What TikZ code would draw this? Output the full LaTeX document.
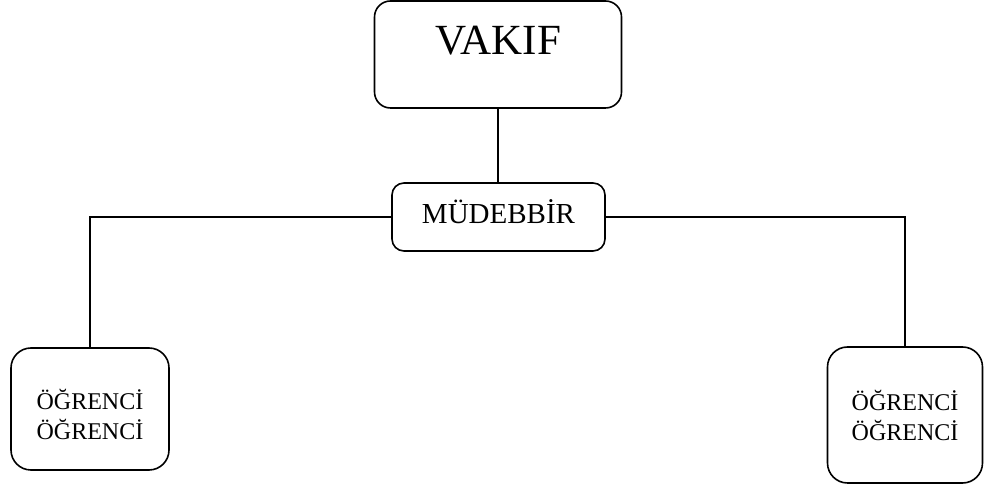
\documentclass[tikz,border=0pt]{standalone}
\usepackage{fontspec}
\setmainfont{Liberation Serif}
\tikzset{
  kutu/.style={draw, line width=1.6pt, rounded corners=16pt, inner sep=0pt},
  yazi/.style={align=center, font=\fontsize{24}{30}\selectfont},
  bag/.style={line width=1.6pt}
}
\begin{document}
\begin{tikzpicture}[x=1pt,y=1pt]
   \path[use as bounding box] (0,0) rectangle (984,486);
   \node[kutu, minimum width=247pt, minimum height=107pt, font=\fontsize{43}{43}\selectfont,
         text height=28pt, text depth=28pt] (vakif) at (498,431.5) {VAKIF};
   \node[kutu, rounded corners=12pt, minimum width=213pt, minimum height=68pt,
         font=\fontsize{29}{29}\selectfont, text height=20pt, text depth=6pt] (mudebbir) at (498.5,269) {MÜDEBBİR};
   \node[kutu, rounded corners=20pt, minimum width=158pt, minimum height=122pt] (ogrenciL) at (90,77) {};
   \node[yazi] (ogrenciLyazi) at ([yshift=-5pt]ogrenciL.center) {ÖĞRENCİ\\ÖĞRENCİ};
   \node[kutu, rounded corners=20pt, minimum width=155pt, minimum height=136pt, yazi] (ogrenciR) at (905,71) {ÖĞRENCİ\\ÖĞRENCİ};
   \draw[bag] (vakif.south) -- (vakif.south |- mudebbir.north);
   \draw[bag] (mudebbir.west) -| (ogrenciL.north);
   \draw[bag] (mudebbir.east) -| (ogrenciR.north);
 \end{tikzpicture}
\end{document}
